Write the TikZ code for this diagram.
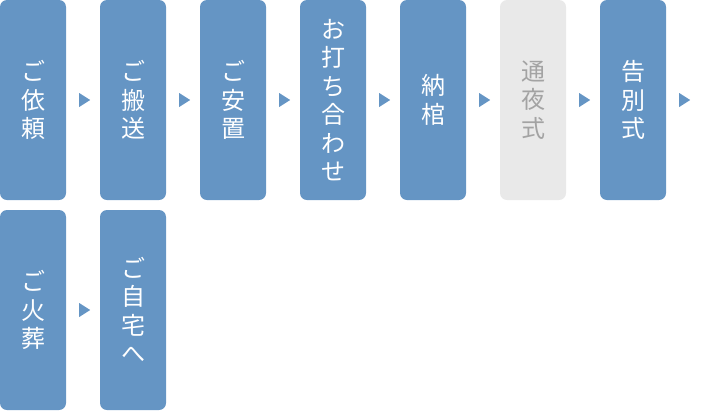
\documentclass[tikz,border=0pt]{standalone}
\usepackage{fontspec}
\newfontfamily\cjk{Noto Sans CJK JP}
\definecolor{stepblue}{HTML}{6595C4}
\definecolor{stepgray}{HTML}{E9E9E9}
\definecolor{stepgraytext}{HTML}{A3A3A3}
\definecolor{triblue}{HTML}{6595C4}
\begin{document}
\begin{tikzpicture}[x=1pt,y=1pt,
  stepbox/.style={fill=stepblue,text=white,rounded corners=7pt,minimum width=66pt,minimum height=200pt,inner sep=0pt,align=center,
    font=\cjk\fontsize{24}{28.5}\selectfont},
  graybox/.style={stepbox,fill=stepgray,text=stepgraytext}]
\useasboundingbox (0,0) rectangle (708,-410);
\node[stepbox] (b1) at (33,-100) {ご\\依\\頼};
\node[stepbox] (b2) at (133,-100) {ご\\搬\\送};
\node[stepbox] (b3) at (233,-100) {ご\\安\\置};
\node[stepbox] (b4) at (333,-100) {お\\打\\ち\\合\\わ\\せ};
\node[stepbox] (b5) at (433,-100) {納\\棺};
\node[graybox] (b6) at (533,-100) {通\\夜\\式};
\node[stepbox] (b7) at (633,-100) {告\\別\\式};
\node[stepbox] (b8) at (33,-310) {ご\\火\\葬};
\node[stepbox] (b9) at (133,-310) {ご\\自\\宅\\へ};
\foreach \a in {b1,b2,b3,b4,b5,b6,b7,b8}{
  \coordinate (t\a) at ([xshift=13pt]\a.east);
  \fill[triblue] (t\a) ++(0,7) -- ++(11,-7) -- ++(-11,-7) -- cycle;
}
\end{tikzpicture}
\end{document}
